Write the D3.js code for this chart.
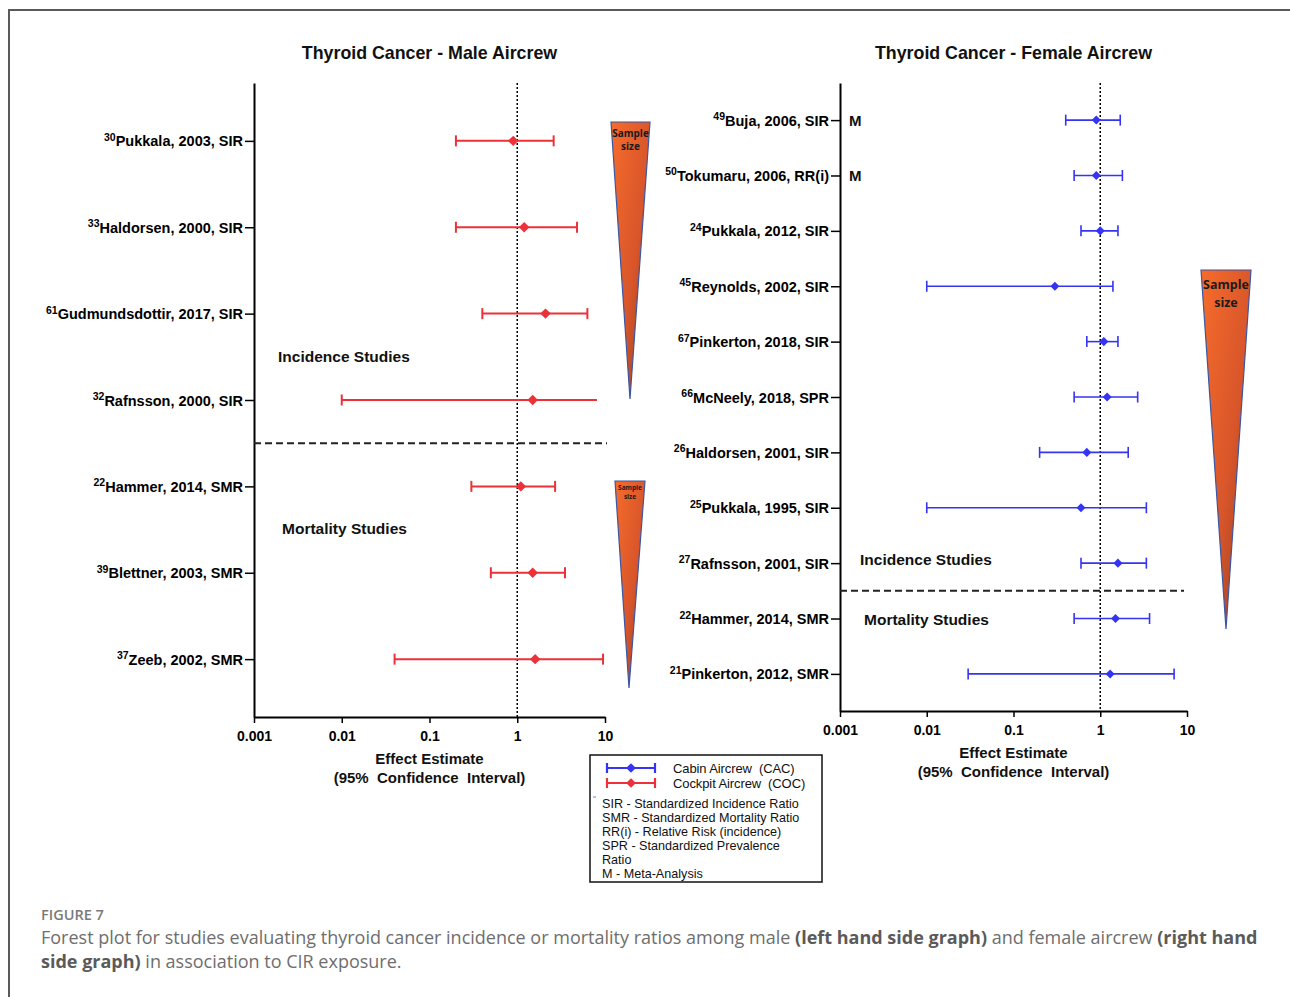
<!DOCTYPE html>
<html>
<head>
<meta charset="utf-8">
<script src="https://cdn.jsdelivr.net/npm/d3@7"></script>
<style>
  html, body { margin: 0; padding: 0; background: #fff; }
  svg { display: block; }
</style>
</head>
<body>
<svg id="fig" width="1290" height="997"></svg>
<script>
// ---- Male aircrew (cockpit crew) ----
const maleRefs    = [30, 33, 61, 32, 22, 39, 37];
const maleStudies = ["Pukkala, 2003, SIR", "Haldorsen, 2000, SIR", "Gudmundsdottir, 2017, SIR",
                     "Rafnsson, 2000, SIR", "Hammer, 2014, SMR", "Blettner, 2003, SMR", "Zeeb, 2002, SMR"];
const maleEst     = [0.9, 1.2, 2.1, 1.5, 1.1, 1.5, 1.6];
const maleLow     = [0.2, 0.2, 0.4, 0.01, 0.3, 0.5, 0.04];
const maleHigh    = [2.6, 4.8, 6.3, 8.1, 2.7, 3.5, 9.5];
const maleHighCap = [true, true, true, false, true, true, true];

// ---- Female aircrew (cabin crew) ----
const femaleRefs    = [49, 50, 24, 45, 67, 66, 26, 25, 27, 22, 21];
const femaleStudies = ["Buja, 2006, SIR", "Tokumaru, 2006, RR(i)", "Pukkala, 2012, SIR", "Reynolds, 2002, SIR",
                       "Pinkerton, 2018, SIR", "McNeely, 2018, SPR", "Haldorsen, 2001, SIR", "Pukkala, 1995, SIR",
                       "Rafnsson, 2001, SIR", "Hammer, 2014, SMR", "Pinkerton, 2012, SMR"];
const femaleEst  = [0.9, 0.9, 1.0, 0.3, 1.1, 1.2, 0.7, 0.6, 1.6, 1.5, 1.3];
const femaleLow  = [0.4, 0.5, 0.6, 0.01, 0.7, 0.5, 0.2, 0.01, 0.6, 0.5, 0.03];
const femaleHigh = [1.7, 1.8, 1.6, 1.4, 1.6, 2.7, 2.1, 3.4, 3.4, 3.7, 7.1];
const femaleMeta = ["M", "M", "", "", "", "", "", "", "", "", ""];

// ---- Shared axis ticks ----
const tickValues = [0.001, 0.01, 0.1, 1, 10];
const tickLabels = ["0.001", "0.01", "0.1", "1", "10"];

const legendItems = ["Cabin Aircrew  (CAC)", "Cockpit Aircrew  (COC)"];
const abbreviations = ["SIR - Standardized Incidence Ratio", "SMR - Standardized Mortality Ratio",
                       "RR(i) - Relative Risk (incidence)", "SPR - Standardized Prevalence", "Ratio",
                       "M - Meta-Analysis"];

const RED = "#ec3139", BLUE = "#3434f2";
const FONT = "'Liberation Sans', Arial, Helvetica, sans-serif";

const svg = d3.select("#fig");
const defs = svg.append("defs");
const grad = defs.append("linearGradient").attr("id", "wedge")
  .attr("x1", 0).attr("y1", 0).attr("x2", 1).attr("y2", 1);
grad.append("stop").attr("offset", "0%").attr("stop-color", "#f66c2b");
grad.append("stop").attr("offset", "55%").attr("stop-color", "#d9562a");
grad.append("stop").attr("offset", "100%").attr("stop-color", "#8f3a1f");

// frame of the figure panel
svg.append("path").attr("d", "M9,997 V10 H1290")
  .attr("fill", "none").attr("stroke", "#5a5a5a").attr("stroke-width", 2);

function forest(cfg) {
  const n = cfg.studies.length;
  const x = d3.scaleLog().domain([0.001, 10]).range([cfg.x0, cfg.x1]);
  const y = d3.scalePoint().domain(d3.range(n)).range([cfg.yTop, cfg.yBottom]).padding(0.67);
  const g = svg.append("g");

  // title
  g.append("text").attr("x", (cfg.x0 + cfg.x1) / 2).attr("y", 59)
    .attr("text-anchor", "middle").attr("font-family", FONT).attr("font-weight", "bold")
    .attr("font-size", 17.8).attr("fill", "#111").text(cfg.title);

  // x axis
  const xa = g.append("g").attr("transform", `translate(0,${cfg.yBottom})`)
    .call(d3.axisBottom(x).tickValues(tickValues).tickFormat((d, i) => tickLabels[i])
      .tickSizeInner(6).tickSizeOuter(0).tickPadding(8));
  xa.select(".domain").attr("stroke", "#000").attr("stroke-width", 2);
  xa.selectAll(".tick line").attr("stroke", "#000").attr("stroke-width", 1.5);
  xa.selectAll(".tick text").attr("font-family", FONT).attr("font-weight", "bold")
    .attr("font-size", 14).attr("fill", "#000");

  // y axis with study labels (reference number as superscript)
  const ya = g.append("g").attr("transform", `translate(${cfg.x0},0)`)
    .call(d3.axisLeft(y).tickSizeInner(9).tickSizeOuter(0).tickPadding(2));
  ya.select(".domain").attr("stroke", "#000").attr("stroke-width", 2);
  ya.selectAll(".tick line").attr("stroke", "#000").attr("stroke-width", 1.5);
  ya.selectAll(".tick text").each(function (d) {
    const t = d3.select(this).text(null).attr("dy", null).attr("font-family", FONT).attr("font-weight", "bold")
      .attr("font-size", 14.5).attr("fill", "#000");
    t.append("tspan").attr("font-size", 10.5).attr("dy", -0.5).text(cfg.refs[d]);
    t.append("tspan").attr("dy", 5.5).text(cfg.studies[d]);
  });

  // reference line at 1
  g.append("line").attr("x1", x(1)).attr("x2", x(1)).attr("y1", cfg.yTop).attr("y2", cfg.yBottom)
    .attr("stroke", "#000").attr("stroke-width", 1.5).attr("stroke-dasharray", "2,2");

  // separator between incidence and mortality studies
  const sepY = (y(cfg.split - 1) + y(cfg.split)) / 2;
  g.append("line").attr("x1", cfg.x0).attr("x2", cfg.sepEnd).attr("y1", sepY).attr("y2", sepY)
    .attr("stroke", "#222").attr("stroke-width", 2).attr("stroke-dasharray", "7,4");

  cfg.groupLabels.forEach(l => {
    g.append("text").attr("x", l.x).attr("y", l.y).attr("font-family", FONT)
      .attr("font-weight", "bold").attr("font-size", 15.5).attr("fill", "#111").text(l.text);
  });

  // error bars
  const rows = g.selectAll("g.row").data(d3.range(n)).join("g").attr("class", "row");
  rows.append("line").attr("x1", i => x(cfg.low[i])).attr("x2", i => x(cfg.high[i]))
    .attr("y1", i => y(i)).attr("y2", i => y(i))
    .attr("stroke", cfg.color).attr("stroke-width", cfg.lw);
  rows.append("line").attr("x1", i => x(cfg.low[i])).attr("x2", i => x(cfg.low[i]))
    .attr("y1", i => y(i) - 5.5).attr("y2", i => y(i) + 5.5)
    .attr("stroke", cfg.color).attr("stroke-width", cfg.lw);
  rows.filter(i => !cfg.highCap || cfg.highCap[i]).append("line")
    .attr("x1", i => x(cfg.high[i])).attr("x2", i => x(cfg.high[i]))
    .attr("y1", i => y(i) - 5.5).attr("y2", i => y(i) + 5.5)
    .attr("stroke", cfg.color).attr("stroke-width", cfg.lw);
  rows.append("path").attr("d", d3.symbol(d3.symbolDiamond2, cfg.dsize)())
    .attr("transform", i => `translate(${x(cfg.est[i])},${y(i)})`)
    .attr("fill", cfg.color);

  if (cfg.meta) {
    rows.filter(i => cfg.meta[i]).append("text").attr("x", cfg.x0 + 9).attr("y", i => y(i) + 5.5)
      .attr("font-family", FONT).attr("font-weight", "bold").attr("font-size", 15)
      .attr("fill", "#111").text(i => cfg.meta[i]);
  }

  // axis title
  const at = g.append("text").attr("x", x(0.1)).attr("text-anchor", "middle")
    .attr("font-family", FONT).attr("font-weight", "bold").attr("font-size", 15).attr("fill", "#111");
  at.append("tspan").attr("x", x(0.1)).attr("y", cfg.yBottom + 47).text("Effect Estimate");
  at.append("tspan").attr("x", x(0.1)).attr("y", cfg.yBottom + 66).attr("xml:space", "preserve")
    .text("(95%  Confidence  Interval)");
}

forest({
  title: "Thyroid Cancer - Male Aircrew", x0: 254, x1: 605, yTop: 83, yBottom: 717,
  refs: maleRefs, studies: maleStudies, est: maleEst, low: maleLow, high: maleHigh, highCap: maleHighCap,
  color: RED, lw: 2, dsize: 70, split: 4, sepEnd: 607,
  groupLabels: [{ text: "Incidence Studies", x: 278, y: 362 }, { text: "Mortality Studies", x: 282, y: 534 }]
});
forest({
  title: "Thyroid Cancer - Female Aircrew", x0: 840, x1: 1187, yTop: 83, yBottom: 711,
  refs: femaleRefs, studies: femaleStudies, est: femaleEst, low: femaleLow, high: femaleHigh, meta: femaleMeta,
  color: BLUE, lw: 1.6, dsize: 52, split: 9, sepEnd: 1184,
  groupLabels: [{ text: "Incidence Studies", x: 860, y: 565 }, { text: "Mortality Studies", x: 864, y: 625 }]
});

// sample-size wedges
const wedges = [
  { l: 611, r: 650, top: 122, apexX: 630, apexY: 399, fs: 10, t1: 137, t2: 150 },
  { l: 615, r: 645, top: 481, apexX: 629, apexY: 688, fs: 6.5, t1: 490, t2: 499 },
  { l: 1201, r: 1251, top: 270, apexX: 1226, apexY: 629, fs: 12.5, t1: 289, t2: 307 }
];
wedges.forEach(w => {
  svg.append("path").attr("d", `M${w.l},${w.top} L${w.r},${w.top} L${w.apexX},${w.apexY} Z`)
    .attr("fill", "url(#wedge)").attr("stroke", "#3b57a3").attr("stroke-width", 1.2);
  const cx = (w.l + w.r) / 2;
  [["Sample", w.t1], ["size", w.t2]].forEach(([s, yy]) => {
    svg.append("text").attr("x", cx).attr("y", yy).attr("text-anchor", "middle")
      .attr("font-family", "'Open Sans', 'Liberation Sans', sans-serif").attr("font-weight", "bold")
      .attr("font-size", w.fs).attr("fill", "#1a1a1a").text(s);
  });
});

// legend
const lg = svg.append("g");
lg.append("rect").attr("x", 590).attr("y", 755).attr("width", 232).attr("height", 127)
  .attr("fill", "#fff").attr("stroke", "#111").attr("stroke-width", 1.5);
[BLUE, RED].forEach((c, i) => {
  const yy = 768 + i * 15;
  lg.append("line").attr("x1", 607).attr("x2", 655).attr("y1", yy).attr("y2", yy).attr("stroke", c).attr("stroke-width", 2.2);
  [607, 655].forEach(xx => lg.append("line").attr("x1", xx).attr("x2", xx).attr("y1", yy - 5).attr("y2", yy + 5)
    .attr("stroke", c).attr("stroke-width", 2.2));
  lg.append("path").attr("d", d3.symbol(d3.symbolDiamond2, 60)())
    .attr("transform", `translate(631,${yy})`).attr("fill", c);
  lg.append("text").attr("x", 673).attr("y", yy + 5).attr("font-family", FONT).attr("font-size", 13)
    .attr("letter-spacing", -0.1).attr("xml:space", "preserve").attr("fill", "#111").text(legendItems[i]);
});
lg.append("line").attr("x1", 593).attr("x2", 596).attr("y1", 797).attr("y2", 797).attr("stroke", "#7a7ad0").attr("stroke-width", 1);
abbreviations.forEach((s, i) => {
  lg.append("text").attr("x", 602).attr("y", 808 + i * 14).attr("font-family", FONT).attr("font-size", 12.6)
    .attr("letter-spacing", 0).attr("fill", "#111").text(s);
});

// caption
const CAP = "'Open Sans', 'Noto Sans', sans-serif";
svg.append("text").attr("x", 41).attr("y", 920).attr("font-family", CAP).attr("font-size", 14.5)
  .attr("font-weight", 600).attr("fill", "#7a7a7a").text("FIGURE 7");
const captionLines = [
  [["Forest plot for studies evaluating thyroid cancer incidence or mortality ratios among male ", false],
   ["(left hand side graph)", true], [" and female aircrew ", false], ["(right hand", true]],
  [["side graph)", true], [" in association to CIR exposure.", false]]
];
captionLines.forEach((parts, li) => {
  const t = svg.append("text").attr("x", 41).attr("y", 944 + li * 24).attr("font-family", CAP)
    .attr("font-size", 18).attr("xml:space", "preserve");
  parts.forEach(([s, b]) => t.append("tspan").attr("font-weight", b ? 700 : 400)
    .attr("fill", b ? "#5a5a5a" : "#6e6e6e").text(s));
});
</script>
</body>
</html>
